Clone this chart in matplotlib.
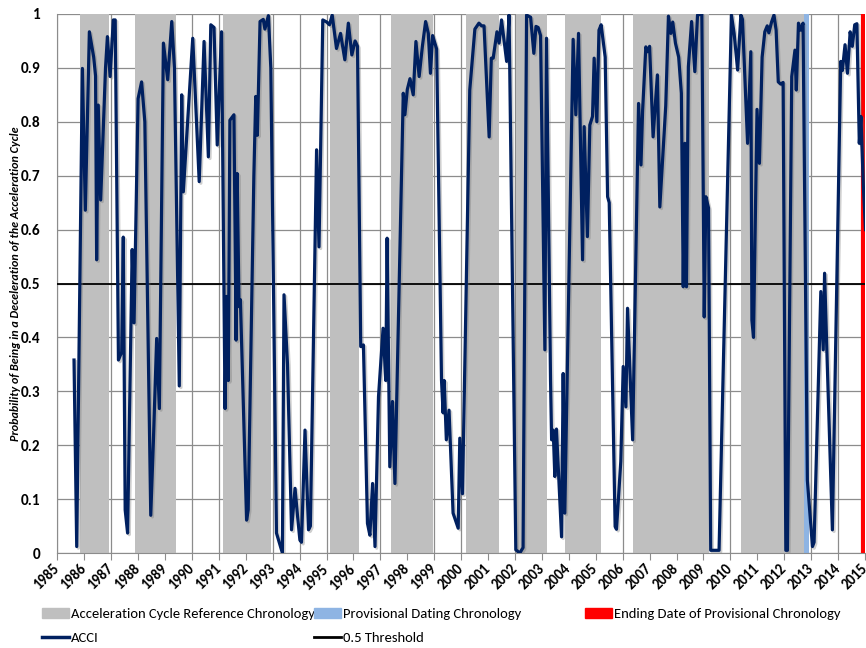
import matplotlib
matplotlib.use("Agg")
import matplotlib.pyplot as plt
import matplotlib.patheffects as pe
from matplotlib.patches import Patch
from matplotlib.lines import Line2D

plt.rcParams['font.family'] = ['Carlito', 'Archivo Narrow', 'DejaVu Sans']

# acceleration cycle reference chronology (start, end) in decimal years
ref_start = [1985.84, 1987.87, 1991.15, 1995.14, 1997.41, 2000.17, 2002.04,
             2003.87, 2006.40, 2010.38]
ref_end = [1986.92, 1989.40, 1992.93, 1996.19, 1998.94, 2001.42, 2003.19,
           2005.21, 2009.21, 2012.73]
prov_start = 2012.73
prov_end = 2012.93
ending_date = 2014.94
threshold = 0.5

# ACCI values
acci_year = [
    1985.62, 1985.72, 1985.93, 1986.04, 1986.19, 1986.35, 1986.42, 1986.46,
    1986.52, 1986.61, 1986.79, 1986.86, 1986.96, 1987.08, 1987.15, 1987.27,
    1987.39, 1987.45, 1987.52, 1987.61, 1987.78, 1987.85, 1988.00, 1988.13,
    1988.25, 1988.47, 1988.57, 1988.69, 1988.79, 1988.94, 1989.10, 1989.25,
    1989.35, 1989.53, 1989.62, 1989.68, 1990.03, 1990.27, 1990.45, 1990.61,
    1990.70, 1990.82, 1990.94, 1991.10, 1991.23, 1991.29, 1991.35, 1991.41,
    1991.56, 1991.64, 1991.68, 1991.75, 1991.80, 1992.03, 1992.09, 1992.30,
    1992.37, 1992.43, 1992.53, 1992.65, 1992.71, 1992.84, 1992.93, 1993.14,
    1993.29, 1993.36, 1993.42, 1993.55, 1993.70, 1993.83, 1993.92, 1994.01,
    1994.07, 1994.20, 1994.33, 1994.40, 1994.57, 1994.63, 1994.72, 1994.86,
    1995.01, 1995.11, 1995.21, 1995.37, 1995.52, 1995.68, 1995.81, 1995.94,
    1996.06, 1996.15, 1996.27, 1996.37, 1996.52, 1996.61, 1996.71, 1996.80,
    1996.93, 1997.10, 1997.20, 1997.25, 1997.35, 1997.45, 1997.54, 1997.85,
    1997.91, 1998.00, 1998.10, 1998.22, 1998.32, 1998.44, 1998.56, 1998.68,
    1998.78, 1998.86, 1998.94, 1999.09, 1999.27, 1999.33, 1999.37, 1999.45,
    1999.55, 1999.70, 1999.89, 1999.95, 2000.05, 2000.32, 2000.51, 2000.66,
    2000.76, 2000.85, 2001.04, 2001.12, 2001.19, 2001.33, 2001.41, 2001.50,
    2001.69, 2001.78, 2002.03, 2002.18, 2002.30, 2002.43, 2002.58, 2002.70,
    2002.78, 2002.86, 2002.95, 2003.11, 2003.17, 2003.32, 2003.36, 2003.42,
    2003.48, 2003.54, 2003.73, 2003.79, 2003.85, 2004.16, 2004.26, 2004.36,
    2004.51, 2004.57, 2004.69, 2004.78, 2004.88, 2004.94, 2005.04, 2005.12,
    2005.20, 2005.35, 2005.44, 2005.50, 2005.72, 2005.77, 2005.93, 2006.02,
    2006.12, 2006.18, 2006.37, 2006.59, 2006.68, 2006.74, 2006.86, 2006.92,
    2007.00, 2007.13, 2007.29, 2007.38, 2007.60, 2007.70, 2007.79, 2007.86,
    2007.96, 2008.08, 2008.18, 2008.25, 2008.31, 2008.37, 2008.44, 2008.56,
    2008.68, 2008.78, 2008.94, 2009.03, 2009.09, 2009.19, 2009.27, 2009.58,
    2010.04, 2010.14, 2010.27, 2010.39, 2010.45, 2010.64, 2010.76, 2010.80,
    2010.86, 2010.99, 2011.08, 2011.18, 2011.28, 2011.37, 2011.43, 2011.53,
    2011.62, 2011.70, 2011.78, 2011.87, 2011.96, 2012.06, 2012.12, 2012.28,
    2012.40, 2012.45, 2012.53, 2012.61, 2012.70, 2012.86, 2013.05, 2013.11,
    2013.36, 2013.45, 2013.50, 2013.60, 2013.79, 2014.10, 2014.16, 2014.26,
    2014.35, 2014.45, 2014.53, 2014.62, 2014.70, 2014.79, 2014.85, 2014.94,
    2015.02]
acci_value = [
    0.358, 0.012, 0.899, 0.636, 0.967, 0.920, 0.885, 0.544,
    0.831, 0.655, 0.900, 0.958, 0.884, 0.989, 0.989, 0.358,
    0.373, 0.586, 0.080, 0.037, 0.563, 0.427, 0.843, 0.874,
    0.800, 0.070, 0.210, 0.398, 0.268, 0.946, 0.878, 0.986,
    0.900, 0.310, 0.850, 0.670, 0.955, 0.689, 0.949, 0.735,
    0.980, 0.975, 0.757, 0.967, 0.268, 0.476, 0.320, 0.803,
    0.813, 0.395, 0.704, 0.457, 0.470, 0.061, 0.080, 0.700,
    0.847, 0.775, 0.986, 0.990, 0.972, 0.997, 0.900, 0.037,
    0.012, 0.000, 0.479, 0.350, 0.043, 0.120, 0.070, 0.024,
    0.020, 0.228, 0.043, 0.050, 0.562, 0.748, 0.568, 0.989,
    0.985, 0.980, 0.998, 0.936, 0.964, 0.915, 0.983, 0.924,
    0.950, 0.940, 0.383, 0.386, 0.055, 0.033, 0.129, 0.012,
    0.290, 0.417, 0.320, 0.584, 0.160, 0.281, 0.129, 0.853,
    0.813, 0.860, 0.880, 0.850, 0.949, 0.884, 0.940, 0.986,
    0.964, 0.890, 0.960, 0.935, 0.321, 0.260, 0.320, 0.210,
    0.265, 0.074, 0.046, 0.213, 0.110, 0.859, 0.972, 0.983,
    0.978, 0.978, 0.772, 0.918, 0.918, 0.967, 0.946, 0.989,
    0.912, 0.998, 0.006, 0.000, 0.010, 0.998, 0.994, 0.927,
    0.977, 0.975, 0.960, 0.377, 0.955, 0.321, 0.210, 0.228,
    0.142, 0.230, 0.030, 0.333, 0.074, 0.953, 0.813, 0.964,
    0.544, 0.791, 0.587, 0.794, 0.810, 0.918, 0.800, 0.970,
    0.980, 0.920, 0.661, 0.650, 0.049, 0.044, 0.170, 0.346,
    0.271, 0.454, 0.210, 0.834, 0.720, 0.820, 0.939, 0.930,
    0.940, 0.772, 0.887, 0.642, 0.830, 0.996, 0.964, 0.985,
    0.946, 0.920, 0.853, 0.494, 0.760, 0.494, 0.902, 0.986,
    0.893, 0.998, 1.000, 0.438, 0.661, 0.640, 0.005, 0.005,
    0.998, 0.964, 0.896, 0.998, 0.990, 0.760, 0.930, 0.432,
    0.400, 0.823, 0.723, 0.920, 0.967, 0.978, 0.965, 0.985,
    0.998, 0.970, 0.874, 0.870, 0.873, 0.005, 0.005, 0.884,
    0.933, 0.859, 0.983, 0.970, 0.983, 0.135, 0.012, 0.020,
    0.485, 0.377, 0.519, 0.350, 0.043, 0.912, 0.895, 0.943,
    0.890, 0.967, 0.940, 0.980, 0.982, 0.760, 0.810, 0.680,
    0.600]

year_ticks = list(range(1985, 2016))
y_ticks = [0, 0.1, 0.2, 0.3, 0.4, 0.5, 0.6, 0.7, 0.8, 0.9, 1]
y_tick_labels = ['0', '0.1', '0.2', '0.3', '0.4', '0.5', '0.6', '0.7', '0.8', '0.9', '1']

gray = '#bfbfbf'
light_blue = '#8eb4e3'
navy = '#002060'

fig = plt.figure(figsize=(8.66, 6.48), dpi=100)
ax = fig.add_axes([0.0662, 0.1466, 0.9326, 0.8318])

ax.set_axisbelow(True)
ax.grid(True, color='#8c8c8c', linewidth=0.9)

for s, e in zip(ref_start, ref_end):
    ax.axvspan(s, e, color=gray, lw=0, zorder=1)
ax.axvspan(prov_start, prov_end, color=light_blue, lw=0, zorder=1)
ax.axvline(ending_date, color='red', lw=3, zorder=2)
ax.axhline(threshold, color='black', lw=1.3, zorder=3)

ax.plot(acci_year, acci_value, color=navy, lw=2.3, zorder=4, solid_joinstyle='round',
        path_effects=[pe.SimpleLineShadow(offset=(1.2, -1.2), shadow_color='#777777', alpha=0.35),
                      pe.Normal()])

ax.set_xlim(1985, 2015)
ax.set_ylim(0, 1)
ax.set_xticks(year_ticks)
ax.set_xticklabels([str(y) for y in year_ticks], rotation=45, ha='right', va='center',
                   rotation_mode='anchor', fontsize=10.5, fontweight='bold')
ax.set_yticks(y_ticks)
ax.set_yticklabels(y_tick_labels, fontsize=11, fontweight='bold')
ax.tick_params(axis='y', length=0, pad=12)
ax.tick_params(axis='x', length=5, color='#8c8c8c', direction='out', pad=5)
for side in ['top', 'right']:
    ax.spines[side].set_visible(False)
ax.spines['left'].set_color('#8c8c8c')
ax.spines['bottom'].set_color('#8c8c8c')

ax.set_ylabel('Probability of Being in a Deceleration of the Acceleration Cycle',
              fontsize=8.7, fontstyle='italic', fontweight='bold')
ax.yaxis.set_label_coords(-0.045, 0.5)

# legend in three columns placed like the original
leg_cols = [
    ([Patch(color=gray), Line2D([], [], color=navy, lw=2.5)],
     ['Acceleration Cycle Reference Chronology', 'ACCI'], 42),
    ([Patch(color=light_blue), Line2D([], [], color='black', lw=2)],
     ['Provisional Dating Chronology', '0.5 Threshold'], 314),
    ([Patch(color='red')], ['Ending Date of Provisional Chronology'], 585),
]
for handles, labels, x_px in leg_cols:
    fig.legend(handles, labels, loc='upper left',
               bbox_to_anchor=(x_px / 866, 1 - 608 / 648),
               frameon=False, fontsize=10.5, handlelength=1.85,
               handleheight=0.65, handletextpad=0.15, labelspacing=0.85,
               borderaxespad=0, borderpad=0)

fig.savefig('out.png', dpi=100)
